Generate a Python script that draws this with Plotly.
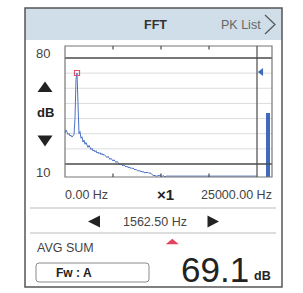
import plotly.graph_objects as go

# ---------------- data ----------------
FREQ_HZ = [0, 130, 260, 391, 521, 651, 781, 911, 1042, 1172, 1302, 1432, 1562, 1693, 1823,
           1953, 2083, 2214, 2344, 2474, 2604, 2734, 2865, 2995, 3125, 3255, 3385, 3516, 3646,
           3776, 3906, 4036, 4167, 4297, 4427, 4557, 4688, 4818, 4948, 5078, 5208, 5339, 5469,
           5599, 5729, 5859, 5990, 6120, 6250, 6380, 6510, 6641, 6771, 6901, 7031, 7161, 7292,
           7422, 7552, 7682, 7813, 7943, 8073, 8203, 8333, 8464, 8594, 8724, 8854, 8984, 9115,
           9245, 9375, 9505, 9635, 9766, 9896, 10026, 10156, 10286, 10417, 10547, 10677, 10807,
           10938, 11068, 11198, 11328, 11458, 11589, 11719, 11849, 11979, 12109, 12240, 12370,
           12500, 12630, 12760, 12891, 13021, 13151, 25000]
LEVEL_DB = [30.5, 32.5, 31.0, 29.5, 30.2, 28.5, 29.0, 27.8, 28.6, 29.5, 40.0, 66.0, 70.1, 52.0,
            30.0, 31.5, 27.0, 28.0, 24.5, 25.8, 23.0, 24.2, 22.0, 21.0, 22.3, 20.5, 19.5, 20.4,
            18.6, 19.2, 18.0, 18.8, 17.2, 17.9, 16.8, 17.5, 16.2, 17.0, 15.8, 16.4, 15.5, 15.0,
            14.2, 15.1, 13.6, 13.0, 13.8, 12.5, 12.0, 12.8, 11.4, 11.0, 11.8, 10.5, 10.2, 9.6,
            10.3, 9.2, 8.8, 9.5, 8.3, 8.0, 8.6, 7.6, 8.1, 7.2, 7.6, 6.9, 7.4, 6.5, 6.0, 6.6,
            5.6, 5.2, 5.9, 5.0, 5.4, 4.6, 5.1, 4.4, 4.0, 4.7, 4.1, 4.5, 3.8, 4.2, 3.5, 3.0,
            2.6, 2.2, 2.5, 2.0, 1.8, 2.6, 2.1, 2.9, 2.3, 1.6, 2.4, 1.6, 1.5, 2.0, 2.0]
PEAK_HZ = [1562.5]
PEAK_DB = [70.1]
METER_DB = [42.4]
METER_MARK_DB = [70.8]
GRID_DB = [20, 30, 40, 50, 60, 70]
FRAME_DB = [10, 80]
X_TICKS_HZ = [6250, 12500, 18750]
Y_MIN_DB, Y_MAX_DB = 1.415, 87.92
X_MIN_HZ, X_MAX_HZ = 0, 25000

W, H = 303, 293


def px(x):
    return x / W


def py(y):
    return 1 - y / H


CURVE = "#4d72c4"
DARK = "#4a4a4a"
TXT = "#444444"
FONT = "Liberation Sans, Arial, sans-serif"

fig = go.Figure()
fig.add_trace(go.Scatter(x=FREQ_HZ, y=LEVEL_DB, mode="lines",
                         line=dict(color=CURVE, width=1), xaxis="x", yaxis="y",
                         hoverinfo="skip"))
fig.add_trace(go.Scatter(x=PEAK_HZ, y=PEAK_DB, mode="markers",
                         marker=dict(symbol="square-open", size=5, color="#e0506e",
                                     line=dict(width=1.2, color="#e0506e")),
                         xaxis="x", yaxis="y"))
fig.add_trace(go.Bar(x=[11], y=METER_DB, width=[4.5], marker=dict(color="#3f6bbf", line=dict(width=0)),
                     xaxis="x2", yaxis="y", base=[Y_MIN_DB]))
fig.add_trace(go.Scatter(x=[4.3], y=METER_MARK_DB, mode="markers",
                         marker=dict(symbol="triangle-left", size=7, color="#3f6bbf"),
                         xaxis="x2", yaxis="y"))

shapes = []
# outer device frame + header
shapes.append(dict(type="rect", xref="paper", yref="paper", x0=px(25), x1=px(282), y0=py(8), y1=py(40),
                   fillcolor="#cfdee8", line=dict(width=0), layer="below"))
shapes.append(dict(type="rect", xref="paper", yref="paper", x0=px(25), x1=px(282), y0=py(287), y1=py(8),
                   line=dict(color="#555555", width=1.5)))
# chevron
shapes.append(dict(type="path", xref="paper", yref="paper",
                   path=f"M {px(265)} {py(15)} L {px(275)} {py(24.5)} L {px(265)} {py(34)}",
                   line=dict(color="#555555", width=1.2)))
# grid lines
for g in GRID_DB:
    shapes.append(dict(type="line", xref="paper", yref="y", x0=px(65), x1=px(272), y0=g, y1=g,
                       line=dict(color="#dcdcdc", width=1), layer="below"))
for g in FRAME_DB:
    shapes.append(dict(type="line", xref="paper", yref="y", x0=px(65), x1=px(272), y0=g, y1=g,
                       line=dict(color=DARK, width=1.5)))
# plot frame
shapes.append(dict(type="rect", xref="paper", yref="paper", x0=px(65), x1=px(272), y0=py(177), y1=py(46),
                   line=dict(color="#777777", width=1.2)))
shapes.append(dict(type="line", xref="paper", yref="paper", x0=px(257), x1=px(257), y0=py(177), y1=py(46),
                   line=dict(color=DARK, width=1.2)))
# ticks
for t in X_TICKS_HZ:
    shapes.append(dict(type="line", xref="x", yref="paper", x0=t, x1=t, y0=py(46), y1=py(49.5),
                       line=dict(color=DARK, width=1.2)))
    shapes.append(dict(type="line", xref="x", yref="paper", x0=t, x1=t, y0=py(177), y1=py(173.5),
                       line=dict(color=DARK, width=1.2)))
# separators
for ys in (208, 233):
    shapes.append(dict(type="line", xref="paper", yref="paper", x0=px(30), x1=px(276), y0=py(ys), y1=py(ys),
                       line=dict(color="#bbbbbb", width=1)))
# triangles
tri = [
    ([(45, 81.5), (37.5, 92), (52.5, 92)], "#222222"),
    ([(45, 146.5), (37.5, 135.5), (52.5, 135.5)], "#222222"),
    ([(88, 221.5), (100, 215.5), (100, 227.5)], "#222222"),
    ([(219, 221.5), (207.5, 215.5), (207.5, 227.5)], "#222222"),
    ([(172.3, 238.8), (165.8, 244.3), (178.8, 244.3)], "#e2435e"),
]
for pts, col in tri:
    p = "M " + " L ".join(f"{px(a)} {py(b)}" for a, b in pts) + " Z"
    shapes.append(dict(type="path", xref="paper", yref="paper", path=p,
                       fillcolor=col, line=dict(width=0)))
# Fw box (rounded)
x0, x1, y0, y1, r = 36, 149, 263, 282, 3
path = (f"M {px(x0 + r)} {py(y0)} L {px(x1 - r)} {py(y0)} Q {px(x1)} {py(y0)} {px(x1)} {py(y0 + r)} "
        f"L {px(x1)} {py(y1 - r)} Q {px(x1)} {py(y1)} {px(x1 - r)} {py(y1)} "
        f"L {px(x0 + r)} {py(y1)} Q {px(x0)} {py(y1)} {px(x0)} {py(y1 - r)} "
        f"L {px(x0)} {py(y0 + r)} Q {px(x0)} {py(y0)} {px(x0 + r)} {py(y0)} Z")
shapes.append(dict(type="path", xref="paper", yref="paper", path=path,
                   line=dict(color="#8a8a8a", width=1)))


def ann(text, x, y, size, color=TXT, bold=False, xanchor="center"):
    t = f"<b>{text}</b>" if bold else text
    return dict(text=t, x=px(x), y=py(y), xref="paper", yref="paper", showarrow=False,
                xanchor=xanchor, yanchor="middle", font=dict(size=size, color=color, family=FONT))


annotations = [
    ann("FFT", 155, 24.5, 12.5, "#333333", bold=True),
    ann("PK List", 241, 24.5, 12.5, "#666666"),
    ann("80", 43, 54, 13),
    ann("dB", 45, 113, 13, "#222222", bold=True),
    ann("10", 43, 172, 13),
    ann("0.00 Hz", 86.5, 195, 12.5),
    ann("×1", 165, 194.5, 15, "#222222", bold=True),
    ann("25000.00 Hz", 236, 195, 12.5),
    ann("1562.50 Hz", 154.5, 221.5, 12.5),
    ann("AVG SUM", 35, 248, 12.5, xanchor="left"),
    ann("Fw : A", 74, 273, 12, "#222222", bold=True),
    ann("69.1", 215, 269, 35, "#222222"),
    ann("dB", 262, 276, 12.5, "#222222", bold=True),
]

ax_off = dict(visible=False, showgrid=False, zeroline=False, fixedrange=True)
fig.update_layout(
    width=W, height=H, margin=dict(l=0, r=0, t=0, b=0),
    paper_bgcolor="white", plot_bgcolor="rgba(0,0,0,0)", showlegend=False,
    xaxis=dict(domain=[px(65), px(257)], range=[X_MIN_HZ, X_MAX_HZ], anchor="y", **ax_off),
    xaxis2=dict(domain=[px(257), px(272)], range=[0, 15], anchor="y", **ax_off),
    yaxis=dict(domain=[py(177), py(46)], range=[Y_MIN_DB, Y_MAX_DB], anchor="x", **ax_off),
    shapes=shapes, annotations=annotations, bargap=0,
)
fig.write_html("out.html", config={"displayModeBar": False},
               post_script="document.body.style.margin='0';document.body.style.overflow='hidden';")
